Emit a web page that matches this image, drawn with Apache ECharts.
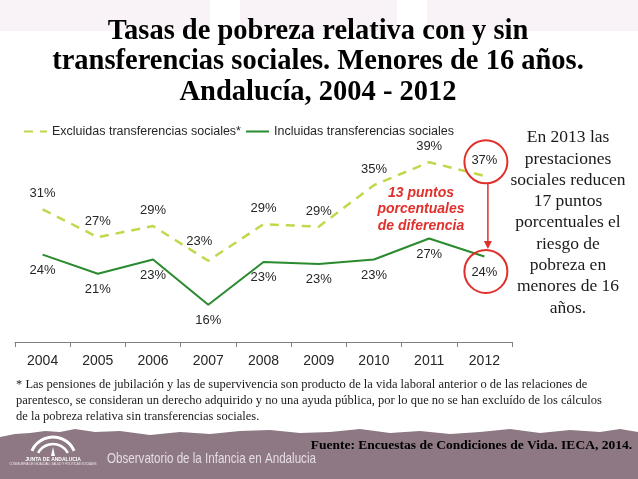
<!DOCTYPE html>
<html>
<head>
<meta charset="utf-8">
<script src="https://cdn.jsdelivr.net/npm/echarts@6/dist/echarts.min.js"></script>
<style>
  html, body { margin: 0; padding: 0; background: #fff; }
  #chart { width: 638px; height: 479px; }
</style>
</head>
<body>
<div id="chart"></div>
<script>
// años del eje
var years = ['2004', '2005', '2006', '2007', '2008', '2009', '2010', '2011', '2012'];
// tasa de pobreza relativa (%)
var excluidas = [31.4, 26.9, 28.7, 23.1, 29.0, 28.6, 35.3, 39.0, 36.8];
var incluidas = [24.1, 21.0, 23.3, 16.0, 22.9, 22.6, 23.3, 26.7, 23.8];
var seriesNames = ['Excluidas transferencias sociales*', 'Incluidas transferencias sociales'];

var titleText = 'Tasas de pobreza relativa con y sin\ntransferencias sociales. Menores de 16 años.\nAndalucía, 2004 - 2012';
var sideText = 'En 2013 las\nprestaciones\nsociales reducen\n17 puntos\nporcentuales el\nriesgo de\npobreza en\nmenores de 16\naños.';
var diffText = '13 puntos\nporcentuales\nde diferencia';
var noteText = '* Las pensiones de jubilación y las de supervivencia son producto de la vida laboral anterior o de las relaciones de\n' +
  'parentesco, se consideran un derecho adquirido y no una ayuda pública, por lo que no se han excluído de los cálculos\n' +
  'de la pobreza relativa sin transferencias sociales.';
var sourceText = 'Fuente: Encuestas de Condiciones de Vida. IECA, 2014.';
var brandText = 'Observatorio de la Infancia en Andalucia';

var chart = echarts.init(document.getElementById('chart'));

var pct = function (p) { return Math.round(p.value) + '%'; };

// la etiqueta de 2007 (línea discontinua) va desplazada a la izquierda
var excData = excluidas.map(function (v, i) {
  if (i === 3) return { value: v, label: { offset: [-9, -4] } };
  return v;
});

var red = '#e0302c';

var option = {
  backgroundColor: '#fff',
  animation: false,
  legend: {
    left: 18,
    top: 120,
    itemWidth: 23,
    itemHeight: 10,
    itemGap: 4,
    itemStyle: { opacity: 0 },
    textStyle: { fontFamily: 'Liberation Sans', fontSize: 12.5, color: '#262626' },
    data: seriesNames
  },
  grid: { left: 15, right: 126, top: 125, bottom: 137 },
  xAxis: {
    type: 'category',
    data: years,
    boundaryGap: true,
    axisLine: { lineStyle: { color: '#808080', width: 1 } },
    axisTick: { show: true, length: 5, lineStyle: { color: '#808080' } },
    axisLabel: { fontFamily: 'Liberation Sans', fontSize: 14, color: '#262626', margin: 12 }
  },
  yAxis: {
    type: 'value',
    min: 10,
    max: 45,
    show: false,
    splitLine: { show: false }
  },
  series: [
    {
      name: seriesNames[0],
      type: 'line',
      data: excData,
      symbol: 'circle',
      symbolSize: 0.1,
      lineStyle: { color: '#c3d64c', width: 2.5, type: [9, 7] },
      itemStyle: { color: '#c3d64c' },
      label: {
        show: true, position: 'top', distance: 9, formatter: pct,
        fontFamily: 'Liberation Sans', fontSize: 13, color: '#262626'
      }
    },
    {
      name: seriesNames[1],
      type: 'line',
      data: incluidas,
      symbol: 'circle',
      symbolSize: 0.1,
      lineStyle: { color: '#2a8a2e', width: 2 },
      itemStyle: { color: '#2a8a2e' },
      label: {
        show: true, position: 'bottom', distance: 9, formatter: pct,
        fontFamily: 'Liberation Sans', fontSize: 13, color: '#262626'
      }
    }
  ]
};

chart.setOption(option);

// posiciones de los puntos de 2012 para los círculos y la flecha
var last = years.length - 1;
var pTop = chart.convertToPixel({ seriesIndex: 0 }, [years[last], excluidas[last]]);
var pBot = chart.convertToPixel({ seriesIndex: 1 }, [years[last], incluidas[last]]);
var c1 = [pTop[0] + 1.5, pTop[1] - 14];
var c2 = [pBot[0] + 1.5, pBot[1] + 15];
var r = 21.5;
var ax = pTop[0] + 3.5;
var ay1 = c1[1] + r;
var ay2 = c2[1] - r - 1;

// borde superior irregular de la banda inferior
var bandTop = [[0, 437], [15, 434], [30, 433], [45, 431], [60, 432], [75, 429], [95, 432], [120, 431],
  [150, 435], [180, 432], [210, 434], [240, 431], [270, 430], [300, 433], [330, 432], [360, 429],
  [390, 433], [420, 431], [450, 434], [480, 432], [510, 429], [540, 433], [570, 430], [600, 432],
  [620, 429], [638, 432]];
var bandPoints = bandTop.concat([[638, 479], [0, 479]]);

chart.setOption({
  graphic: [
    { type: 'rect', shape: { x: 0, y: 0, width: 210, height: 31 }, style: { fill: '#f9f2f6' }, z: -1 },
    { type: 'rect', shape: { x: 240, y: 0, width: 157, height: 31 }, style: { fill: '#f9f2f6' }, z: -1 },
    { type: 'rect', shape: { x: 427, y: 0, width: 211, height: 31 }, style: { fill: '#f9f2f6' }, z: -1 },
    {
      type: 'text', x: 318, y: 16,
      style: {
        text: titleText, textAlign: 'center', lineHeight: 30.5,
        font: 'bold 28.5px "Liberation Serif"', fill: '#000'
      }
    },
    {
      type: 'text', x: 568, y: 127,
      style: {
        text: sideText, textAlign: 'center', lineHeight: 21.3,
        font: '17.5px "Liberation Serif"', fill: '#1a1a1a'
      }
    },
    {
      type: 'text', x: 421, y: 185,
      style: {
        text: diffText, textAlign: 'center', lineHeight: 16.4,
        font: 'italic bold 14px "Liberation Sans"', fill: red
      }
    },
    {
      type: 'circle', shape: { cx: c1[0], cy: c1[1], r: r },
      style: { fill: 'none', stroke: red, lineWidth: 2 }, z: 10
    },
    {
      type: 'circle', shape: { cx: c2[0], cy: c2[1], r: r },
      style: { fill: 'none', stroke: red, lineWidth: 2 }, z: 10
    },
    {
      type: 'line', shape: { x1: ax, y1: ay1, x2: ax, y2: ay2 - 6 },
      style: { stroke: red, lineWidth: 1.5 }, z: 10
    },
    {
      type: 'polygon', shape: { points: [[ax - 4, ay2 - 8], [ax + 4, ay2 - 8], [ax, ay2]] },
      style: { fill: red }, z: 10
    },
    {
      type: 'text', x: 16, y: 377,
      style: {
        text: noteText, lineHeight: 16,
        font: '12.5px "Liberation Serif"', fill: '#1a1a1a'
      }
    },
    { type: 'polygon', shape: { points: bandPoints }, style: { fill: '#8d7883' } },
    {
      type: 'text', x: 632, y: 439,
      style: { text: sourceText, textAlign: 'right', font: 'bold 13.5px "Liberation Serif"', fill: '#000' }
    },
    {
      type: 'text', x: 107, y: 451, scaleX: 0.8,
      style: { text: brandText, font: '14.5px "Liberation Sans"', fill: '#e6dde3' }
    },
    // logotipo aproximado
    {
      type: 'arc', shape: { cx: 53, cy: 460, r: 23, startAngle: -Math.PI * 0.87, endAngle: -Math.PI * 0.13 },
      style: { stroke: '#fff', lineWidth: 3, fill: 'none' }
    },
    {
      type: 'arc', shape: { cx: 53, cy: 461, r: 17, startAngle: -Math.PI * 0.84, endAngle: -Math.PI * 0.16 },
      style: { stroke: '#fff', lineWidth: 2.5, fill: 'none' }
    },
    {
      type: 'polygon', shape: { points: [[51, 456], [55, 456], [53, 447]] },
      style: { fill: '#fff' }
    },
    {
      type: 'text', x: 53, y: 457,
      style: { text: 'JUNTA DE ANDALUCIA', textAlign: 'center', font: 'bold 5px "Liberation Sans"', fill: '#fff' }
    },
    {
      type: 'text', x: 53, y: 463,
      style: { text: 'CONSEJERÍA DE IGUALDAD, SALUD Y POLÍTICAS SOCIALES', textAlign: 'center', font: '3px "Liberation Sans"', fill: '#f0e8ee' }
    }
  ]
});
</script>
</body>
</html>
